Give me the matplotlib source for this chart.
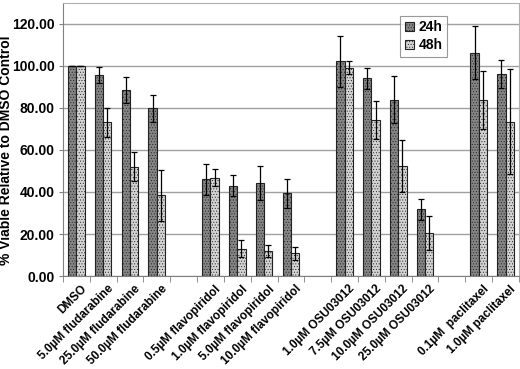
import numpy as np
import matplotlib.pyplot as plt

plt.rcParams['font.family'] = ['Liberation Sans', 'DejaVu Sans']
plt.rcParams['hatch.linewidth'] = 0.4

# slots, '' = blank gap between drug groups
labels = ["DMSO", "5.0\u00b5M fludarabine", "25.0\u00b5M fludarabine", "50.0\u00b5M fludarabine", "",
          "0.5\u00b5M flavopiridol", "1.0\u00b5M flavopiridol", "5.0\u00b5M flavopiridol", "10.0\u00b5M flavopiridol", "",
          "1.0\u00b5M OSU03012", "7.5\u00b5M OSU03012", "10.0\u00b5M OSU03012", "25.0\u00b5M OSU03012", "",
          "0.1\u00b5M  paclitaxel", "1.0\u00b5M paclitaxel"]
v24 = [100, 95.7, 88.6, 79.8, np.nan, 46.0, 43.0, 44.3, 39.4, np.nan,
       102.2, 94.1, 84.0, 31.8, np.nan, 106.3, 96.2]
e24 = [0, 4.0, 6.0, 6.5, np.nan, 7.5, 5.0, 8.0, 7.0, np.nan,
       12.0, 5.0, 11.0, 5.0, np.nan, 12.7, 6.5]
v48 = [100, 73.2, 52.0, 38.4, np.nan, 46.8, 13.0, 12.0, 10.8, np.nan,
       99.2, 74.3, 52.4, 20.6, np.nan, 83.8, 73.5]
e48 = [0, 7.0, 7.0, 12.0, np.nan, 4.0, 4.0, 3.0, 3.0, np.nan,
       3.0, 9.0, 12.5, 8.0, np.nan, 14.0, 25.0]

x = np.arange(len(labels))
w = 0.31

fig = plt.figure(figsize=(5.2, 3.69), dpi=100)
ax = fig.add_axes([0.121, 0.252, 0.877, 0.740])

ekw = dict(ecolor='black', elinewidth=0.9, capsize=2.5, capthick=0.9)
ax.bar(x - w / 2, v24, w, yerr=e24, color='#858585', edgecolor='#222222', linewidth=0.8,
       hatch='......', error_kw=ekw, label='24h', zorder=3)
ax.bar(x + w / 2, v48, w, yerr=e48, color='#d4d4d4', edgecolor='#222222', linewidth=0.8,
       hatch='......', error_kw=ekw, label='48h', zorder=3)

ax.set_xlim(-0.5, len(labels) - 0.5)
ax.set_ylim(0, 130)
ax.set_yticks(np.arange(0, 121, 20))
ax.set_yticklabels([f"{t:.2f}" for t in np.arange(0, 121, 20)], fontsize=10, fontweight='bold')
ax.yaxis.grid(True, color='#a0a0a0', linewidth=1.0, zorder=0)
ax.set_axisbelow(True)

ax.set_xticks(x + 0.15)
ax.set_xticklabels(labels, rotation=45, ha='right', rotation_mode='anchor',
                   fontsize=8.5, fontweight='bold')
ax.tick_params(axis='x', length=0, pad=5)
ax.set_xticks(np.arange(-0.5, len(labels)), minor=True)
ax.tick_params(axis='x', which='minor', length=4, color='#808080')
ax.tick_params(axis='y', length=3, color='#808080', pad=3)

ax.set_ylabel("% Viable Relative to DMSO Control", fontsize=10, fontweight='bold')
ax.yaxis.set_label_coords(-0.11, 0.46)

for s in ['top', 'right']:
    ax.spines[s].set_color('#b0b0b0')
for s in ['left', 'bottom']:
    ax.spines[s].set_color('#808080')

leg = ax.legend(loc='upper left', bbox_to_anchor=(0.74, 0.952), fontsize=10, frameon=True,
                fancybox=False, edgecolor='#808080', handlelength=0.7, handleheight=0.7,
                handletextpad=0.3, borderpad=0.3, labelspacing=0.3, borderaxespad=0)
for t in leg.get_texts():
    t.set_fontweight('bold')
leg.get_frame().set_linewidth(0.8)

fig.savefig("out.png", dpi=100)
